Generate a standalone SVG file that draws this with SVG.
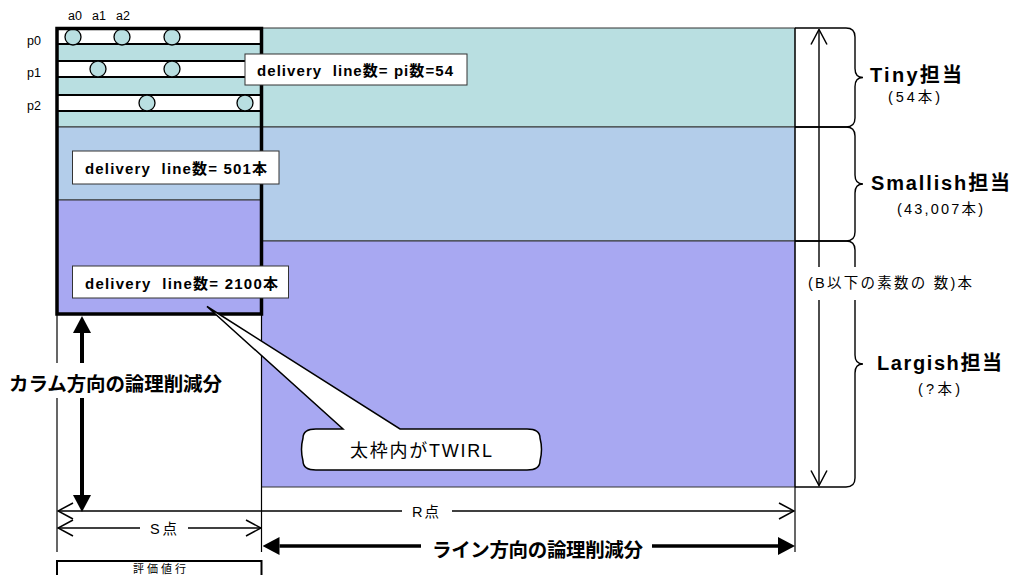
<svg xmlns="http://www.w3.org/2000/svg" width="1015" height="575" viewBox="0 0 1015 575">
<defs>
<style>
.t{font-family:"Liberation Sans","Noto Sans CJK JP",sans-serif;fill:#000}
.b{font-weight:bold}
.box{fill:#fff;stroke:#333;stroke-width:1}
.strip{fill:#fff;stroke:#000;stroke-width:2}
.dot{fill:#b9dfe1;stroke:#000;stroke-width:1.3}
.tiny{fill:#b9dfe1;stroke:#333;stroke-width:1}
.small{fill:#b3cdea;stroke:#333;stroke-width:1}
.large{fill:#a8a8f2;stroke:#333;stroke-width:1}
.ln{stroke:#000;stroke-width:1.2;fill:none}
.brace{stroke:#000;stroke-width:1.4;fill:none}
.oa{stroke:#000;stroke-width:1.4;fill:none;marker-start:url(#oh);marker-end:url(#oh)}
.fa{stroke:#000;fill:none;marker-start:url(#fh);marker-end:url(#fh)}
.bg{fill:#fff}
</style>
<marker id="oh" viewBox="-1 -1 17 18" refX="15" refY="8" markerWidth="17" markerHeight="18" markerUnits="userSpaceOnUse" orient="auto-start-reverse">
<path d="M0,0 L15,8 L0,16" fill="none" stroke="#000" stroke-width="1.5"/>
</marker>
<marker id="fh" viewBox="0 0 17 18" refX="0" refY="9" markerWidth="17" markerHeight="18" markerUnits="userSpaceOnUse" orient="auto-start-reverse">
<path d="M0,0 L17,9 L0,18 Z" fill="#000"/>
</marker>
</defs>
<rect width="1015" height="575" fill="#fff"/>

<g id="tiny-band">
<rect class="tiny" x="261.5" y="28" width="533.5" height="99"/>
<rect class="tiny" x="57" y="28" width="204.5" height="99"/>
</g>
<g id="smallish-band">
<rect class="small" x="261.5" y="127" width="533.5" height="114"/>
<rect class="small" x="57" y="127" width="204.5" height="73"/>
</g>
<g id="largish-band">
<rect class="large" x="261.5" y="241" width="533.5" height="246"/>
<rect class="large" x="57" y="200" width="204.5" height="114"/>
</g>

<g id="strip-p0">
<rect class="strip" x="57" y="29" width="204.5" height="15"/>
<circle class="dot" cx="73" cy="37" r="8"/>
<circle class="dot" cx="122" cy="37" r="8"/>
<circle class="dot" cx="172" cy="37" r="8"/>
<text class="t" x="27" y="45" font-size="12.5">p0</text>
</g>
<g id="strip-p1">
<rect class="strip" x="57" y="61" width="204.5" height="16"/>
<circle class="dot" cx="98" cy="69" r="8"/>
<circle class="dot" cx="172" cy="69" r="8"/>
<text class="t" x="27" y="77" font-size="12.5">p1</text>
</g>
<g id="strip-p2">
<rect class="strip" x="57" y="95" width="204.5" height="16"/>
<circle class="dot" cx="147" cy="103" r="8"/>
<circle class="dot" cx="245" cy="103" r="8"/>
<text class="t" x="27" y="110" font-size="12.5">p2</text>
</g>
<g id="column-labels">
<text class="t" x="68" y="19.5" font-size="12.5">a0</text>
<text class="t" x="92" y="19.5" font-size="12.5">a1</text>
<text class="t" x="116" y="19.5" font-size="12.5">a2</text>
</g>

<g id="twirl-frame">
<rect x="57" y="28.5" width="204.5" height="285.5" fill="none" stroke="#000" stroke-width="3.5"/>
</g>

<g id="box-tiny">
<rect class="box" x="245" y="54" width="222" height="31"/>
<text class="t b" x="257" y="75.5" font-size="15" textLength="196" lengthAdjust="spacing">delivery&#160; line数= pi数=54</text>
</g>
<g id="box-smallish">
<rect class="box" x="72.5" y="151" width="206.5" height="33"/>
<text class="t b" x="85" y="174" font-size="15" textLength="182" lengthAdjust="spacing">delivery&#160; line数= 501本</text>
</g>
<g id="box-largish">
<rect class="box" x="72.5" y="266" width="216" height="32"/>
<text class="t b" x="85" y="288.5" font-size="15" textLength="193" lengthAdjust="spacing">delivery&#160; line数= 2100本</text>
</g>

<g id="connectors">
<line class="ln" x1="57" y1="314" x2="57" y2="552"/>
<line class="ln" x1="261.5" y1="314" x2="261.5" y2="552"/>
<line class="ln" x1="795" y1="28" x2="795" y2="552"/>
<path class="brace" d="M795,28 L846,28 Q855,28 855,37 L855,68.5 Q855,77.5 863,77.5 Q855,77.5 855,86.5 L855,118 Q855,127 846,127 L795,127"/>
<path class="brace" d="M795,127 L846,127 Q855,127 855,136 L855,175 Q855,184 863,184 Q855,184 855,193 L855,232 Q855,241 846,241 L795,241"/>
<path class="brace" d="M795,241 L846,241 Q855,241 855,250 L855,355 Q855,364 863,364 Q855,364 855,373 L855,478 Q855,487 846,487 L795,487"/>
<line class="oa" x1="819" y1="29.5" x2="819" y2="485.5"/>
<line class="oa" x1="58" y1="511" x2="794" y2="511"/>
<line class="oa" x1="58" y1="528" x2="261" y2="528"/>
<line class="fa" x1="82" y1="333" x2="82" y2="495" stroke-width="4"/>
<line class="fa" x1="279.5" y1="546" x2="778" y2="546" stroke-width="3.5"/>
</g>

<g id="label-count">
<rect class="bg" x="803" y="267" width="175" height="33"/>
<text class="t" x="808" y="288" font-size="14.5" textLength="164" lengthAdjust="spacing">(B以下の素数の 数)本</text>
</g>
<g id="label-tiny">
<text class="t b" x="870" y="82" font-size="20" textLength="92" lengthAdjust="spacing">Tiny担当</text>
<text class="t" x="888" y="102" font-size="14.5" textLength="52" lengthAdjust="spacing">(54本)</text>
</g>
<g id="label-smallish">
<text class="t b" x="871" y="190" font-size="20" textLength="139" lengthAdjust="spacing">Smallish担当</text>
<text class="t" x="897" y="214" font-size="14.5" textLength="86" lengthAdjust="spacing">(43,007本)</text>
</g>
<g id="label-largish">
<text class="t b" x="877" y="370" font-size="20" textLength="125" lengthAdjust="spacing">Largish担当</text>
<text class="t" x="918" y="394" font-size="14.5" textLength="42" lengthAdjust="spacing">(?本)</text>
</g>
<g id="label-column">
<rect class="bg" x="4" y="363" width="222" height="35"/>
<text class="t b" x="9" y="391" font-size="19.5" textLength="213" lengthAdjust="spacing">カラム方向の論理削減分</text>
</g>
<g id="label-r">
<rect class="bg" x="402" y="503" width="50" height="16"/>
<text class="t" x="412" y="516.5" font-size="14.5" textLength="27" lengthAdjust="spacing">R点</text>
</g>
<g id="label-s">
<rect class="bg" x="140" y="520" width="48" height="16"/>
<text class="t" x="150" y="533.5" font-size="14.5" textLength="27" lengthAdjust="spacing">S点</text>
</g>
<g id="label-line">
<rect class="bg" x="421" y="535" width="231" height="24"/>
<text class="t b" x="432" y="557" font-size="19.5" textLength="211" lengthAdjust="spacing">ライン方向の論理削減分</text>
</g>

<g id="eval-row">
<rect x="57" y="561" width="204.5" height="30" fill="#fff" stroke="#000" stroke-width="2"/>
<text class="t" x="133" y="573" font-size="11" textLength="53" lengthAdjust="spacing">評価値行</text>
</g>

<g id="callout">
<path d="M316,429 L343,429 L207,306.5 L400,429 L527,429 Q540,429 540,438 Q543,449.5 540,461 Q540,470 527,470 L316,470 Q303,470 303,461 Q300,449.5 303,438 Q303,429 316,429 Z" fill="#fff" stroke="#000" stroke-width="1.5" stroke-linejoin="miter"/>
<text class="t" x="350" y="456.5" font-size="18" textLength="142" lengthAdjust="spacing">太枠内がTWIRL</text>
</g>
</svg>
